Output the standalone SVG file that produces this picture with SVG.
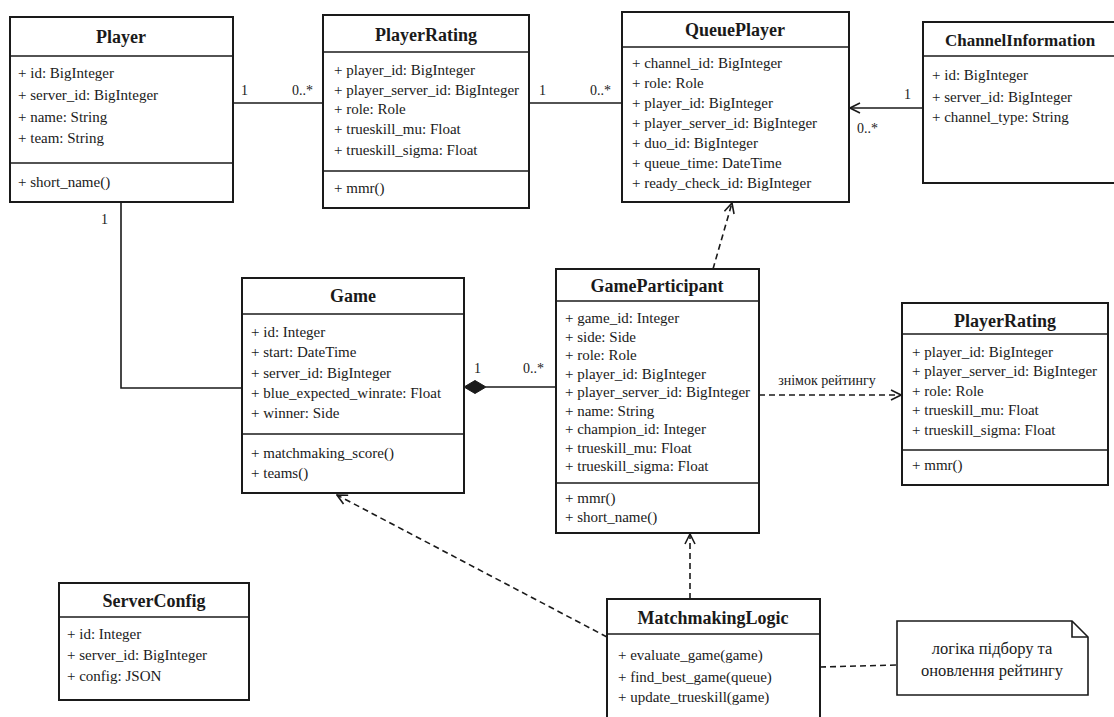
<svg xmlns="http://www.w3.org/2000/svg" width="1114" height="717" viewBox="0 0 1114 717">
<defs>
<style>
.box{fill:#fff;stroke:#1a1a1a;stroke-width:2}
.div{stroke:#1a1a1a;stroke-width:1.6}
.t{font-family:"Liberation Serif","DejaVu Serif",serif;font-size:18px;font-weight:bold;fill:#1a1a1a;text-anchor:middle}
.a{font-family:"Liberation Serif","DejaVu Serif",serif;font-size:15px;fill:#1a1a1a}
.m{font-family:"Liberation Serif","DejaVu Serif",serif;font-size:15px;fill:#1a1a1a}
.lbl{font-family:"Liberation Serif","DejaVu Serif",serif;font-size:14px;fill:#1a1a1a}
.note{font-family:"Liberation Serif","DejaVu Serif",serif;font-size:16.5px;fill:#1a1a1a;text-anchor:middle}
.ln{fill:none;stroke:#1a1a1a;stroke-width:1.6}
.dash{fill:none;stroke:#1a1a1a;stroke-width:1.6;stroke-dasharray:6 4}
</style>
<marker id="open" viewBox="0 0 12 12" refX="11" refY="6" markerWidth="12" markerHeight="12" markerUnits="userSpaceOnUse" orient="auto">
<path d="M1,1 L11,6 L1,11" fill="none" stroke="#1a1a1a" stroke-width="1.6"/>
</marker>
</defs>
<rect width="1114" height="717" fill="#fff"/>

<g id="connectors">
<path class="ln" d="M233,103 H323"/>
<path class="ln" d="M529,103 H622"/>
<path class="ln" d="M923,108 H850" marker-end="url(#open)"/>
<path class="ln" d="M121,202 V388 H242"/>
<path class="ln" d="M486,387 H556"/>
<path d="M464,387 L475,380.5 L486,387 L475,393.5 Z" fill="#1a1a1a" stroke="#1a1a1a" stroke-width="1"/>
<path class="dash" d="M713,269 L732,203" marker-end="url(#open)"/>
<path class="dash" d="M759,395 H901" marker-end="url(#open)"/>
<path class="dash" d="M690,599 V534" marker-end="url(#open)"/>
<path class="dash" d="M607,637 L337,495" marker-end="url(#open)"/>
<path class="dash" d="M820,667 L897,665"/>
<text class="lbl" x="241" y="95">1</text>
<text class="lbl" x="292" y="95">0..*</text>
<text class="lbl" x="539" y="95">1</text>
<text class="lbl" x="590" y="95">0..*</text>
<text class="lbl" x="904" y="99">1</text>
<text class="lbl" x="857" y="133">0..*</text>
<text class="lbl" x="101" y="224">1</text>
<text class="lbl" x="474" y="373">1</text>
<text class="lbl" x="523" y="373">0..*</text>
<text class="lbl" x="827" y="385" text-anchor="middle">знімок рейтингу</text>
</g>

<g id="Player">
<rect class="box" x="10" y="17" width="223" height="185"/>
<line class="div" x1="10" y1="56" x2="233" y2="56"/>
<line class="div" x1="10" y1="163" x2="233" y2="163"/>
<text class="t" x="121" y="43">Player</text>
<text class="a" x="18" y="78">+  id: BigInteger</text>
<text class="a" x="18" y="100">+  server_id: BigInteger</text>
<text class="a" x="18" y="122">+  name: String</text>
<text class="a" x="18" y="143">+  team: String</text>
<text class="m" x="18" y="187">+  short_name()</text>
</g>

<g id="PlayerRating">
<rect class="box" x="323" y="15" width="206" height="193"/>
<line class="div" x1="323" y1="52" x2="529" y2="52"/>
<line class="div" x1="323" y1="171" x2="529" y2="171"/>
<text class="t" x="426" y="41">PlayerRating</text>
<text class="a" x="334" y="75">+  player_id: BigInteger</text>
<text class="a" x="334" y="95">+  player_server_id: BigInteger</text>
<text class="a" x="334" y="114">+  role: Role</text>
<text class="a" x="334" y="134">+  trueskill_mu: Float</text>
<text class="a" x="334" y="155">+  trueskill_sigma: Float</text>
<text class="m" x="334" y="193">+  mmr()</text>
</g>

<g id="QueuePlayer">
<rect class="box" x="622" y="12" width="227" height="190"/>
<line class="div" x1="622" y1="47" x2="849" y2="47"/>
<text class="t" x="735" y="36">QueuePlayer</text>
<text class="a" x="632" y="68">+  channel_id: BigInteger</text>
<text class="a" x="632" y="88">+  role: Role</text>
<text class="a" x="632" y="108">+  player_id: BigInteger</text>
<text class="a" x="632" y="128">+  player_server_id: BigInteger</text>
<text class="a" x="632" y="148">+  duo_id: BigInteger</text>
<text class="a" x="632" y="168">+  queue_time: DateTime</text>
<text class="a" x="632" y="188">+  ready_check_id: BigInteger</text>
</g>

<g id="ChannelInformation">
<rect class="box" x="923" y="22" width="200" height="161"/>
<line class="div" x1="923" y1="56" x2="1123" y2="56"/>
<text class="t" x="1020" y="46" style="font-size:17px">ChannelInformation</text>
<text class="a" x="932" y="80">+  id: BigInteger</text>
<text class="a" x="932" y="102">+  server_id: BigInteger</text>
<text class="a" x="932" y="122">+  channel_type: String</text>
</g>

<g id="Game">
<rect class="box" x="242" y="278" width="222" height="215"/>
<line class="div" x1="242" y1="314" x2="464" y2="314"/>
<line class="div" x1="242" y1="434" x2="464" y2="434"/>
<text class="t" x="353" y="302">Game</text>
<text class="a" x="251" y="337">+  id: Integer</text>
<text class="a" x="251" y="357">+  start: DateTime</text>
<text class="a" x="251" y="378">+  server_id: BigInteger</text>
<text class="a" x="251" y="398">+  blue_expected_winrate: Float</text>
<text class="a" x="251" y="418">+  winner: Side</text>
<text class="m" x="251" y="458">+  matchmaking_score()</text>
<text class="m" x="251" y="478">+  teams()</text>
</g>

<g id="GameParticipant">
<rect class="box" x="556" y="269" width="203" height="264"/>
<line class="div" x1="556" y1="301" x2="759" y2="301"/>
<line class="div" x1="556" y1="483" x2="759" y2="483"/>
<text class="t" x="657" y="292">GameParticipant</text>
<text class="a" x="565" y="323">+  game_id: Integer</text>
<text class="a" x="565" y="341.5">+  side: Side</text>
<text class="a" x="565" y="360">+  role: Role</text>
<text class="a" x="565" y="378.5">+  player_id: BigInteger</text>
<text class="a" x="565" y="397">+  player_server_id: BigInteger</text>
<text class="a" x="565" y="415.5">+  name: String</text>
<text class="a" x="565" y="434">+  champion_id: Integer</text>
<text class="a" x="565" y="452.5">+  trueskill_mu: Float</text>
<text class="a" x="565" y="471">+  trueskill_sigma: Float</text>
<text class="m" x="565" y="503">+  mmr()</text>
<text class="m" x="565" y="522">+  short_name()</text>
</g>

<g id="PlayerRatingSnapshot">
<rect class="box" x="902" y="303" width="206" height="182"/>
<line class="div" x1="902" y1="334" x2="1108" y2="334"/>
<line class="div" x1="902" y1="450" x2="1108" y2="450"/>
<text class="t" x="1005" y="327">PlayerRating</text>
<text class="a" x="912" y="357">+  player_id: BigInteger</text>
<text class="a" x="912" y="376">+  player_server_id: BigInteger</text>
<text class="a" x="912" y="396">+  role: Role</text>
<text class="a" x="912" y="415">+  trueskill_mu: Float</text>
<text class="a" x="912" y="435">+  trueskill_sigma: Float</text>
<text class="m" x="912" y="470">+  mmr()</text>
</g>

<g id="ServerConfig">
<rect class="box" x="59" y="583" width="190" height="117"/>
<line class="div" x1="59" y1="617" x2="249" y2="617"/>
<text class="t" x="154" y="607">ServerConfig</text>
<text class="a" x="67" y="639">+  id: Integer</text>
<text class="a" x="67" y="660">+  server_id: BigInteger</text>
<text class="a" x="67" y="681">+  config: JSON</text>
</g>

<g id="MatchmakingLogic">
<rect class="box" x="607" y="599" width="213" height="125"/>
<line class="div" x1="607" y1="634" x2="820" y2="634"/>
<text class="t" x="713" y="624">MatchmakingLogic</text>
<text class="m" x="618" y="660">+  evaluate_game(game)</text>
<text class="m" x="618" y="682">+  find_best_game(queue)</text>
<text class="m" x="618" y="702">+  update_trueskill(game)</text>
</g>

<g id="Note">
<path d="M897,621 H1072 L1088,637 V695 H897 Z" fill="#fff" stroke="#1a1a1a" stroke-width="1.6"/>
<path d="M1072,621 V637 H1088" fill="none" stroke="#1a1a1a" stroke-width="1.6"/>
<text class="note" x="992" y="654">логіка підбору та</text>
<text class="note" x="992" y="676">оновлення рейтингу</text>
</g>
</svg>
